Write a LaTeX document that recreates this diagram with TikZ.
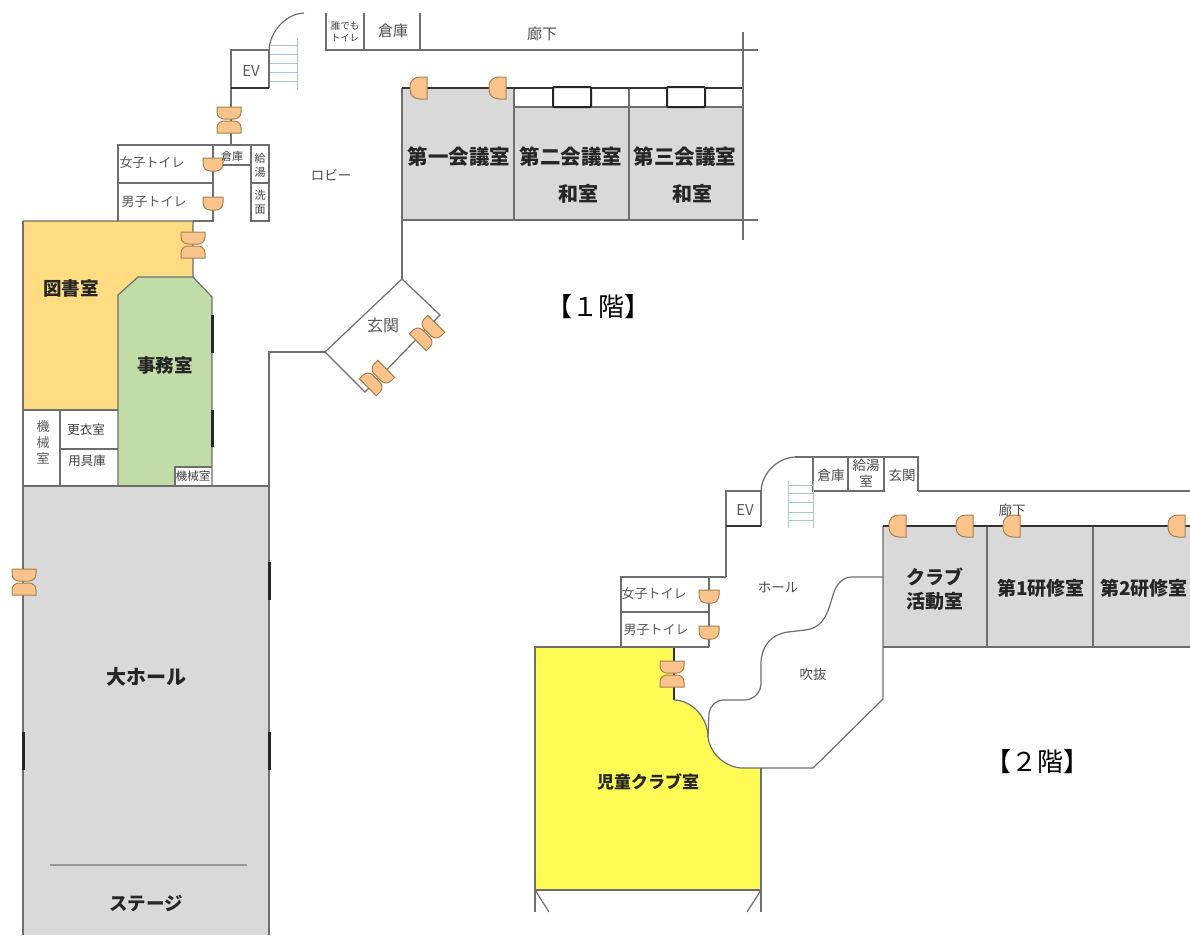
\documentclass[tikz,border=0pt]{standalone}
\usepackage{fontspec}
\setmainfont{Noto Sans CJK JP}
\definecolor{wallc}{HTML}{6E6E6E}
\definecolor{roomgray}{HTML}{D9D9D9}
\definecolor{libc}{HTML}{FFDC82}
\definecolor{officec}{HTML}{C2DCA8}
\definecolor{kidsc}{HTML}{FFFB55}
\definecolor{doorc}{HTML}{FAC38C}
\definecolor{doore}{HTML}{A5814F}
\definecolor{stairc}{HTML}{A9C4D8}
\tikzset{
  x=1pt,y=-1pt,
  wall/.style={draw=wallc,line width=1.2pt},
  dark/.style={draw=black!80,line width=1.6pt},
  win/.style={draw=black!85,line width=3pt},
  stair/.style={draw=stairc,line width=.9pt},
  big/.style={inner sep=0pt,text=black!85,font=\fontsize{20.5}{24}\selectfont\bfseries,align=center},
  room/.style={inner sep=0pt,text=black!85,font=\fontsize{18.5}{24}\selectfont\bfseries,align=center},
  mid/.style={inner sep=0pt,text=black!85,font=\fontsize{19}{24}\selectfont\bfseries,align=center},
  small/.style={inner sep=0pt,text=black!65,font=\fontsize{13}{16}\selectfont,align=center},
  tiny/.style={inner sep=0pt,text=black!70,font=\fontsize{13.5}{16}\selectfont,align=center},
  micro/.style={inner sep=0pt,text=black!75,font=\fontsize{11}{14}\selectfont,align=center},
  floorlab/.style={inner sep=0pt,text=black,font=\fontsize{26}{30}\selectfont},
  halfdoor/.pic={\path[fill=doorc,draw=doore,line width=1pt]
     (-10,-6) -- (10,-6) -- (10,-1) .. controls (10,4) and (7,7) .. (3,7) -- (-3,7) .. controls (-7,7) and (-10,4) .. (-10,-1) -- cycle;},
  sidedoor/.pic={\path[fill=doorc,draw=doore,line width=1pt]
     (-11,-8) -- (11,-8) -- (11,-1) .. controls (11,5) and (7,9) .. (2,9) -- (-2,9) .. controls (-7,9) and (-11,5) .. (-11,-1) -- cycle;},
  doublepart/.pic={\path[fill=doorc,draw=doore,line width=1pt]
     (-12,-13) -- (12,-13) -- (12,-8) .. controls (12,-3) and (8,-1) .. (5,-1) -- (-5,-1) .. controls (-8,-1) and (-12,-3) .. (-12,-8) -- cycle;
     \path[fill=doorc,draw=doore,line width=1pt]
     (-12,13) -- (12,13) -- (12,8) .. controls (12,3) and (8,1) .. (5,1) -- (-5,1) .. controls (-8,1) and (-12,3) .. (-12,8) -- cycle;},
}
\begin{document}
\begin{tikzpicture}
\useasboundingbox (0,0) rectangle (1190,935);
% ---------- fills, 1F
\fill[libc] (23,221) -- (193,221) -- (193,277) -- (138,277) -- (118,295) -- (118,410) -- (23,410) -- cycle;
\fill[officec] (138,277) -- (193,277) -- (212,297) -- (212,486) -- (118,486) -- (118,295) -- cycle;
\fill[white] (175,467) rectangle (212,486);
\fill[roomgray] (23,486) rectangle (269,935);
\fill[roomgray] (402,88) -- (514,88) -- (514,107) -- (742,107) -- (742,220) -- (402,220) -- cycle;
% ---------- fills, 2F
\fill[kidsc] (535,647) -- (674,647) -- (674,700) .. controls (692,700) and (708,718) .. (708,737) .. controls (710,754) and (726,768) .. (743,768) -- (761,768) -- (761,890) -- (535,890) -- cycle;
\fill[roomgray] (883,526) rectangle (1190,647);
% ---------- walls, 1F
\draw[wall] (23,221) -- (23,935);
\draw[wall] (269,935) -- (269,352) -- (325,352);
\draw[wall] (23,486) -- (269,486);
\draw[wall] (23,221) -- (193,221) -- (193,277) -- (138,277) -- (118,295) -- (118,486);
\draw[wall] (193,277) -- (212,297) -- (212,486);
\draw[wall] (23,410) -- (118,410);
\draw[wall] (60,410) -- (60,486);
\draw[wall] (60,449) -- (118,449);
\draw[wall] (175,486) -- (175,467) -- (212,467);
\draw[wall] (325,352) -- (402,279) -- (440,315) -- (365,392) -- cycle;
\draw[wall] (402,279) -- (402,88);
\draw[wall] (402,220) -- (758,220);
\draw[wall] (514,88) -- (514,220);
\draw[wall] (629,88) -- (629,220);
\draw[wall] (514,107) -- (742,107);
\draw[dark] (402,88) -- (742,88);
\draw[wall,line width=2pt] (743,32) -- (743,240);
\draw[wall] (326,13) -- (326,50) -- (758,50);
\draw[wall] (364,13) -- (364,50);
\draw[wall] (420,13) -- (420,50);
\draw[wall] (231,145) -- (231,50) -- (269,50) -- (269,88);
\draw[dark] (231,88) -- (269,88);
\draw[wall] (269,50) .. controls (270,32) and (285,14) .. (304,13);
\draw[wall] (118,221) -- (118,145) -- (269,145) -- (269,221) -- (251,221) -- (251,145);
\draw[wall] (118,183) -- (213,183);
\draw[wall] (251,183) -- (269,183);
\draw[wall] (213,165) -- (251,165);
\draw[wall,line width=1.6pt] (213,145) -- (213,221) -- (193,221);
% windows
\draw[win] (212,315) -- (212,353);
\draw[win] (212,410) -- (212,447);
\draw[win] (269,562) -- (269,600);
\draw[win] (269,732) -- (269,770);
\draw[win] (23,732) -- (23,770);
\draw[draw=black!85,line width=2pt,fill=white,rounded corners=1pt] (553,87) rectangle (591,107);
\draw[draw=black!85,line width=2pt,fill=white,rounded corners=1pt] (667,87) rectangle (705,107);
\draw[draw=black!40,line width=2.4pt] (50,865) -- (247,865);
% stairs 1F
\foreach \yy in {45,54,63,72,81} \draw[stair] (270,\yy) -- (297,\yy);
\draw[stair] (297,38) -- (297,90);
% ---------- walls, 2F
\draw[wall] (535,912) -- (535,647) -- (674,647);
\draw[wall] (761,912) -- (761,768);
\draw[wall] (535,890) -- (761,890);
\draw[wall] (535,890) -- (549,912);
\draw[wall] (761,890) -- (747,912);
\draw[dark] (674,647) -- (674,700);
\draw[wall] (674,700) .. controls (692,700) and (708,718) .. (708,737) .. controls (710,754) and (726,768) .. (743,768) -- (813,768) -- (883,699) -- (883,526);
\draw[wall] (708,737) -- (709,713) .. controls (710,706) and (716,700) .. (723,700) -- (745,700) .. controls (755,699) and (761,692) .. (761,683) -- (761,662) .. controls (762,645) and (772,634) .. (788,632) -- (805,630) .. controls (824,628) and (828,612) .. (833,595) .. controls (836,585) and (842,577) .. (852,577) -- (883,577);
\draw[wall] (883,647) -- (1190,647);
\draw[wall] (987,526) -- (987,647);
\draw[wall] (1093,526) -- (1093,647);
\draw[dark] (883,526) -- (1190,526);
\draw[wall] (918,491) -- (1190,491);
\draw[wall] (813,457) -- (918,457) -- (918,491);
\draw[wall] (813,457) -- (813,491) -- (884,491) -- (884,457);
\draw[wall] (848,457) -- (848,491);
\draw[wall] (795,457) -- (813,457);
\draw[wall] (761,491) .. controls (762,473) and (777,458) .. (795,457);
\draw[wall] (726,577) -- (726,491) -- (761,491) -- (761,526);
\draw[dark] (726,526) -- (761,526);
\draw[wall] (621,647) -- (621,577) -- (726,577);
\draw[wall] (621,612) -- (709,612);
\draw[wall] (621,647) -- (709,647);
\draw[wall] (709,577) -- (709,647);
% stairs 2F
\foreach \yy in {485,493,502,512,520} \draw[stair] (788,\yy) -- (813,\yy);
\draw[stair] (813,481) -- (813,528);
\draw[stair] (788,481) -- (788,528);
% ---------- doors
\pic at (229,120) {doublepart};
\pic at (193,245) {doublepart};
\pic at (24,582) {doublepart};
\pic[rotate=-45] at (427,333) {doublepart};
\pic[rotate=-45] at (377,378) {doublepart};
\pic at (672,674) {doublepart};
\pic at (213,164) {halfdoor};
\pic at (213,203) {halfdoor};
\pic at (709,596) {halfdoor};
\pic at (709,632) {halfdoor};
\pic[rotate=-90] at (419,88) {sidedoor};
\pic[rotate=-90] at (498,88) {sidedoor};
\pic[rotate=-90] at (898,526) {sidedoor};
\pic[rotate=-90] at (965,526) {sidedoor};
\pic[rotate=-90] at (1012,526) {sidedoor};
\pic[rotate=-90] at (1177,526) {sidedoor};
% ---------- labels, 1F
\node[small,font=\fontsize{15}{16}\selectfont] (ev1) at (251,71) {EV};
\node[micro,font=\fontsize{9.5}{12}\selectfont] (daredemo) at (345,32) {誰でも\\トイレ};
\node[tiny,font=\fontsize{15}{16}\selectfont] (so1) at (393,31) {倉庫};
\node[tiny,font=\fontsize{15}{16}\selectfont] (ro1) at (542,34) {廊下};
\node[small] (f1w) at (152,163) {女子トイレ};
\node[small] (f1m) at (154,202) {男子トイレ};
\node[micro] (so1b) at (232,156) {倉庫};
\node[micro] (kyu1) at (260,165) {給\\湯};
\node[micro] (sen1) at (260,202) {洗\\面};
\node[tiny] (lobby) at (331,175) {ロビー};
\node[big] (r1) at (459,157) {第一会議室};
\node[big] (r2) at (571,157) {第二会議室};
\node[big] (r3) at (685,157) {第三会議室};
\node[room,font=\fontsize{20}{24}\selectfont\bfseries] (w2) at (578,194) {和室};
\node[room,font=\fontsize{20}{24}\selectfont\bfseries] (w3) at (692,194) {和室};
\node[floorlab] (f1) at (598,307) {【１階】};
\node[room] (lib) at (71,288) {図書室};
\node[room] (off) at (165,365) {事務室};
\node[small,font=\fontsize{16}{18}\selectfont] (gen) at (383,325) {玄関};
\node[small,font=\fontsize{13}{16}\selectfont] (kik) at (43,442) {機\\械\\室};
\node[micro,font=\fontsize{12.5}{14}\selectfont] (kou) at (86,430) {更衣室};
\node[micro,font=\fontsize{12.5}{14}\selectfont] (yog) at (87,461) {用具庫};
\node[micro,font=\fontsize{11.5}{14}\selectfont] (kik2) at (193,476) {機械室};
\node[big,font=\fontsize{20}{24}\selectfont\bfseries] (hall) at (146,677) {大ホール};
\node[room] (stage) at (146,904) {ステージ};
% ---------- labels, 2F
\node[small,font=\fontsize{15}{16}\selectfont] (ev2) at (745,510) {EV};
\node[tiny] (so2) at (831,475) {倉庫};
\node[tiny] (kyu2) at (866,473) {給湯\\室};
\node[tiny] (gen2) at (902,475) {玄関};
\node[tiny] (ro2) at (1012,510) {廊下};
\node[small] (f2w) at (654,594) {女子トイレ};
\node[small] (f2m) at (656,630) {男子トイレ};
\node[tiny] (hol2) at (778,587) {ホール};
\node[tiny] (fuki) at (813,674) {吹抜};
\node[mid] (club) at (935,589) {クラブ\\活動室};
\node[mid] (k1) at (1041,588) {第1研修室};
\node[mid] (k2) at (1144,588) {第2研修室};
\node[room,font=\fontsize{17}{22}\selectfont\bfseries] (kid) at (648,782) {児童クラブ室};
\node[floorlab] (f2) at (1037,762) {【２階】};
\end{tikzpicture}
\end{document}
